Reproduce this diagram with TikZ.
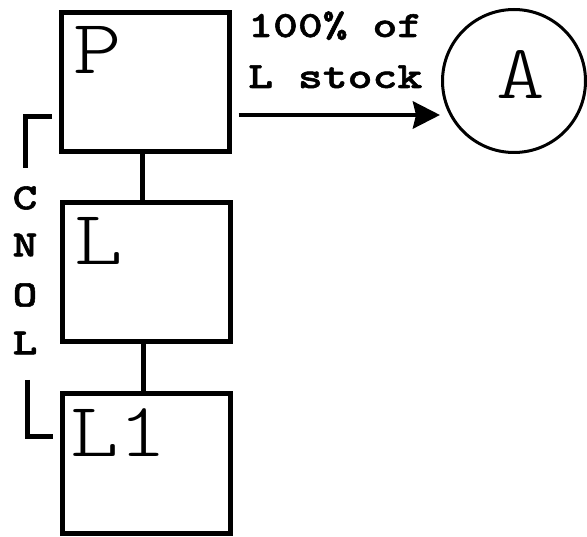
\documentclass[tikz,border=0pt]{standalone}
\usepackage{fontspec}
\newfontfamily\bigtt[FakeStretch=1.2]{lmmonolt10-regular.otf}
\newfontfamily\smalltt[FakeStretch=1.28,FakeBold=1.5]{lmmonolt10-bold.otf}
\usetikzlibrary{arrows.meta}
\tikzset{
  box/.style={draw, line width=5pt, minimum width=168pt, minimum height=139pt, inner sep=0pt},
  big/.style={inner sep=0pt, anchor=base west, font=\bigtt\fontsize{77}{77}\selectfont},
  small/.style={inner sep=0pt, anchor=base west, font=\smalltt\fontsize{37}{37}\selectfont},
  vlet/.style={inner sep=0pt, font=\smalltt\fontsize{37}{37}\selectfont},
  link/.style={line width=5pt},
  arr/.style={line width=4.5pt, -{Stealth[length=27pt,width=27pt,inset=3pt]}},
  brk/.style={line width=5pt}
}
\begin{document}
\begin{tikzpicture}[x=1pt,y=-1pt]
\useasboundingbox (0,0) rectangle (587,537);
\node[box] (P) at (145,82.5) {};
\node[box] (L) at (146.5,272.5) {};
\node[box] (L1) at (146.5,463.5) {};
\node[big] (Pt) at (73,74) {P};
\node[big] (Lt) at (74,265) {L};
\node[big] (L1t) at (70,457) {L1};
\node[draw, circle, line width=3pt, minimum size=143pt, inner sep=0pt] (A) at (514,81) {};
\node[big, anchor=base] (At) at (521,99) {A};
\node[small] (t1) at (248,37) {100\% of};
\node[small] (t2) at (248,88) {L stock};
\node[vlet] (c1) at (25,198) {C};
\node[vlet] (c2) at (25,245) {N};
\node[vlet] (c3) at (25,295) {O};
\node[vlet] (c4) at (25,343) {L};
\coordinate (ay) at (0,115);
\draw[link] ([xshift=-3pt]P.south) -- ([xshift=-3pt]P.south |- L.north);
\draw[link] ([xshift=-3.5pt]L.south) -- ([xshift=-3.5pt]L.south |- L1.north);
\draw[arr] ([xshift=7pt]P.east |- ay) -- ([xshift=-1pt]A.west |- ay);
\coordinate (b1) at (52,117);
\coordinate (b2) at (25,168);
\coordinate (b3) at (27,380);
\coordinate (b4) at (53,437);
\draw[brk] (b1) -| (b2);
\draw[brk] (b3) |- (b4);
\end{tikzpicture}
\end{document}
